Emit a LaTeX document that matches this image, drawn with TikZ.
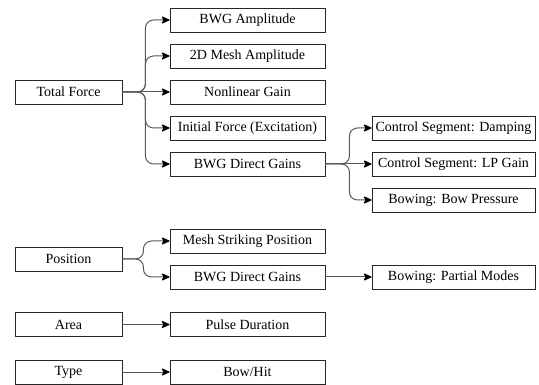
\documentclass[tikz,border=0pt]{standalone}
\usepackage{fontspec}
\setmainfont{Liberation Serif}
\usetikzlibrary{arrows.meta}
\newcommand{\boxfont}{\rmfamily\fontsize{14}{16}\selectfont}
\tikzset{
  box/.style={draw=black!85, line width=0.9pt, inner sep=0pt, font=\boxfont, fill=white},
  lbox/.style={box, minimum width=107pt, minimum height=24pt},
  mbox/.style={box, minimum width=155pt, minimum height=24pt},
  rbox/.style={box, minimum width=163pt, minimum height=24pt},
  tip/.tip={Stealth[length=9pt,width=8pt,inset=2pt,round,black]},
  conn/.style={draw=black!65, line width=1pt, rounded corners=8pt, -tip}
}
\begin{document}
\begin{tikzpicture}[x=1pt,y=-1pt]
\useasboundingbox (0,0) rectangle (539,385);
% left column
\node[lbox] (tf) at (68.5,92) {Total Force};
\node[lbox] (pos) at (68.5,259) {Position};
\node[lbox] (area) at (68.5,324.5) {Area};
\node[lbox] (type) at (68.5,372) {Type};
% middle column
\node[mbox] (m1) at (247.5,20) {BWG Amplitude};
\node[mbox] (m2) at (247.5,56) {2D Mesh Amplitude};
\node[mbox] (m3) at (247.5,92) {Nonlinear Gain};
\node[mbox] (m4) at (247.5,128) {Initial Force (Excitation)};
\node[mbox] (m5) at (247.5,164) {BWG Direct Gains};
\node[mbox] (mesh) at (247.5,241) {Mesh Striking Position};
\node[mbox] (bwg) at (247.5,277) {BWG Direct Gains};
\node[mbox] (pulse) at (247.5,324.5) {Pulse Duration};
\node[mbox] (bh) at (247.5,372) {Bow/Hit};
% right column
\node[rbox] (r1) at (453.5,128) {Control Segment: Damping};
\node[rbox] (r2) at (453.5,164) {Control Segment: LP Gain};
\node[rbox] (r3) at (453.5,200) {Bowing: Bow Pressure};
\node[rbox] (pm) at (453.5,277) {Bowing: Partial Modes};
% connectors
\draw[conn] (tf.east) -- ([xshift=23pt]tf.east) |- (m1.west);
\draw[conn] (tf.east) -- ([xshift=23pt]tf.east) |- (m2.west);
\draw[conn] (tf.east) -- (m3.west);
\draw[conn] (tf.east) -- ([xshift=23pt]tf.east) |- (m4.west);
\draw[conn] (tf.east) -- ([xshift=23pt]tf.east) |- (m5.west);
\draw[conn] (m5.east) -- ([xshift=24pt]m5.east) |- (r1.west);
\draw[conn] (m5.east) -- (r2.west);
\draw[conn] (m5.east) -- ([xshift=24pt]m5.east) |- (r3.west);
\draw[conn] (pos.east) -- ([xshift=21pt]pos.east) |- (mesh.west);
\draw[conn] (pos.east) -- ([xshift=21pt]pos.east) |- (bwg.west);
\draw[conn] (bwg.east) -- (pm.west);
\draw[conn] (area.east) -- (pulse.west);
\draw[conn] (type.east) -- (bh.west);
\end{tikzpicture}
\end{document}
